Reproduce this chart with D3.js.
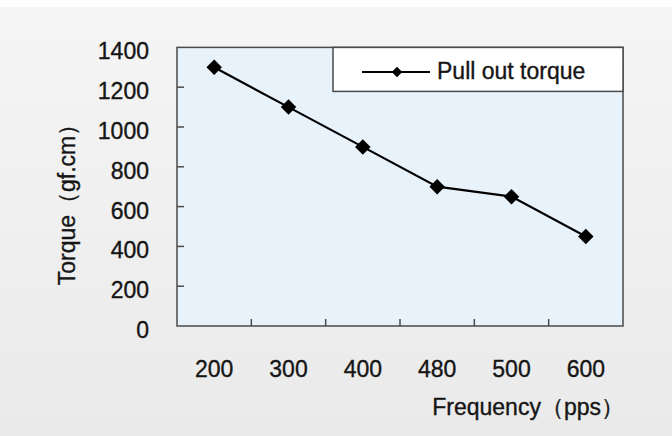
<!DOCTYPE html>
<html><head><meta charset="utf-8">
<script src="https://cdn.jsdelivr.net/npm/d3@7"></script>
<style>
html,body{margin:0;padding:0;background:#fff;}
svg{display:block;font-family:"Liberation Sans",Arial,sans-serif;}
text{stroke:#151515;stroke-width:0.35px;}
</style></head>
<body><svg id="c" width="672" height="436"></svg>
<script>
const categories = ["200","300","400","480","500","600"];
const torque = [1300,1100,900,700,650,450];
const yTicks = [0,200,400,600,800,1000,1200,1400];
const seriesName = "Pull out torque";
const xTitle = "Frequency（pps）";
const yTitle = "Torque（gf.cm）";

const svg = d3.select("#c");
const defs = svg.append("defs");
const g1 = defs.append("linearGradient").attr("id","bg").attr("x1",0).attr("y1",0).attr("x2",0).attr("y2",1);
g1.append("stop").attr("offset","0%").attr("stop-color","#f5f5f5");
g1.append("stop").attr("offset","100%").attr("stop-color","#eaeaea");
svg.append("rect").attr("x",0).attr("y",0).attr("width",672).attr("height",436).attr("fill","#fff");
svg.append("rect").attr("x",0).attr("y",7).attr("width",672).attr("height",429).attr("fill","url(#bg)");

const L=177,R=623,T=47.4,B=326;
const x = d3.scaleBand().domain(categories).range([L,R]);
const y = d3.scaleLinear().domain([0,1400]).range([B,T]);

svg.append("rect").attr("x",L).attr("y",T).attr("width",R-L).attr("height",B-T)
  .attr("fill","#e8f2fb").attr("stroke","#4a4a4a").attr("stroke-width",1.5);

const txt = "#151515";
// y ticks
svg.append("g").selectAll("line").data(yTicks.filter(d=>d>0&&d<1400)).join("line")
  .attr("x1",L).attr("x2",L+7).attr("y1",d=>y(d)).attr("y2",d=>y(d))
  .attr("stroke","#4a4a4a").attr("stroke-width",1.5);
svg.append("g").selectAll("text").data(yTicks).join("text")
  .attr("x",149).attr("y",d=>y(d)+4).attr("text-anchor","end").attr("dominant-baseline","central")
  .attr("font-size",23).attr("fill",txt).text(d=>d);

// x ticks at band boundaries
svg.append("g").selectAll("line").data(categories.slice(1)).join("line")
  .attr("x1",d=>x(d)).attr("x2",d=>x(d)).attr("y1",B).attr("y2",B-7)
  .attr("stroke","#4a4a4a").attr("stroke-width",1.5);
svg.append("g").selectAll("text").data(categories).join("text")
  .attr("x",d=>x(d)+x.bandwidth()/2).attr("y",369).attr("text-anchor","middle").attr("dominant-baseline","central")
  .attr("font-size",23).attr("fill",txt).text(d=>d);

svg.append("text").attr("x",624).attr("y",407).attr("text-anchor","end").attr("dominant-baseline","central")
  .attr("font-size",23).attr("fill",txt).text(xTitle);
svg.append("text").attr("transform","translate(67,199) rotate(-90)").attr("text-anchor","middle").attr("dominant-baseline","central")
  .attr("font-size",23).attr("fill",txt).text(yTitle);

// line
const cx = (d,i)=>x(categories[i])+x.bandwidth()/2;
svg.append("path").datum(torque).attr("fill","none").attr("stroke","#000").attr("stroke-width",2.2)
  .attr("d",d3.line().x(cx).y(d=>y(d)));
const diamond = d3.symbol().type(d3.symbolSquare).size(120);
svg.append("g").selectAll("path").data(torque).join("path")
  .attr("d",diamond()).attr("fill","#000")
  .attr("transform",(d,i)=>`translate(${cx(d,i)},${y(d)}) rotate(45)`);

// legend
svg.append("rect").attr("x",333).attr("y",T).attr("width",R-333).attr("height",44)
  .attr("fill","#fff").attr("stroke","#4a4a4a").attr("stroke-width",1.5);
svg.append("line").attr("x1",362).attr("x2",430).attr("y1",72).attr("y2",72).attr("stroke","#000").attr("stroke-width",2.2);
svg.append("path").attr("d",d3.symbol().type(d3.symbolSquare).size(55)()).attr("fill","#000")
  .attr("transform","translate(397,72) rotate(45)");
svg.append("text").attr("x",437).attr("y",71).attr("dominant-baseline","central")
  .attr("font-size",23).attr("fill",txt).text(seriesName);
</script></body></html>
